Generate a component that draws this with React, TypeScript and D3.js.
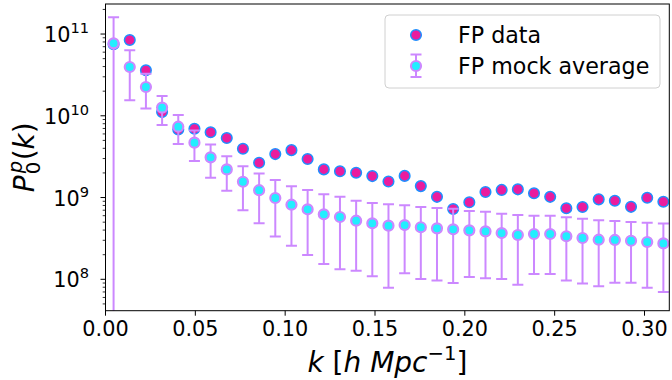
import React from "react";
import * as d3 from "d3";

const kValues = [
  0.0045, 0.0135, 0.0225, 0.0315, 0.0405, 0.0495, 0.0585, 0.0675, 0.0765, 0.0855,
  0.0945, 0.1035, 0.1125, 0.1215, 0.1305, 0.1395, 0.1485, 0.1575, 0.1665, 0.1755,
  0.1845, 0.1935, 0.2025, 0.2115, 0.2205, 0.2295, 0.2385, 0.2475, 0.2565, 0.2655,
  0.2745, 0.2835, 0.2925, 0.3015, 0.3105,
];

const fpData = [
  7.5e10, 8.45e10, 3.6e10, 1.11e10, 6.8e9, 6.95e9, 6.3e9, 5.35e9, 3.95e9, 2.67e9,
  3.4e9, 3.8e9, 2.96e9, 2.21e9, 2.1e9, 2.01e9, 1.83e9, 1.57e9, 1.84e9, 1.38e9,
  1.02e9, 7.25e8, 8.75e8, 1.17e9, 1.24e9, 1.26e9, 1.13e9, 1.02e9, 7.4e8, 7.65e8,
  9.5e8, 9.15e8, 7.7e8, 9.95e8, 8.9e8,
];

const mockMean = [
  7.7e10, 3.95e10, 2.25e10, 1.26e10, 7.35e9, 4.69e9, 3.1e9, 2.21e9, 1.56e9, 1.23e9,
  9.87e8, 8.17e8, 7.18e8, 6.24e8, 5.78e8, 5.21e8, 4.84e8, 4.53e8, 4.61e8, 4.33e8,
  4.2e8, 4.09e8, 3.97e8, 3.86e8, 3.68e8, 3.48e8, 3.58e8, 3.58e8, 3.36e8, 3.2e8,
  3.05e8, 3.03e8, 2.96e8, 2.86e8, 2.75e8,
];

const mockSigma = [
  8.3e10, 2.4e10, 1.025e10, 4.87e9, 2.84e9, 1.9e9, 1.35e9, 1.0e9, 8.6e8, 7.44e8,
  6.52e8, 5.6e8, 5.2e8, 4.7e8, 4.45e8, 3.94e8, 3.75e8, 3.74e8, 3.42e8, 3.32e8,
  3.23e8, 3.19e8, 2.9e8, 2.83e8, 2.67e8, 2.62e8, 2.42e8, 2.42e8, 2.39e8, 2.31e8,
  2.23e8, 2.12e8, 2.05e8, 2.07e8, 2.05e8,
];

const xTicks = [0.0, 0.05, 0.1, 0.15, 0.2, 0.25, 0.3];
const yMajorExp = [8, 9, 10, 11];
const legendLabels = ["FP data", "FP mock average"];

const W = 672;
const H = 380;
const left = 105.5;
const right = 669.3;
const top = 4;
const bottom = 310.7;

const PINK = "#ea1c9e";
const BLUE = "#1e90ff";
const CYAN = "#22eeff";
const PURPLE = "#cc88ff";
const FONT = "DejaVu Sans, sans-serif";

export default function App() {
  const x = d3.scaleLinear().domain([0, 0.3138]).range([left, right]);
  const y = d3.scaleLog().domain([4.13e7, 2.33e11]).range([bottom, top]);

  const minor: number[] = [];
  for (let e = 7; e <= 11; e++) {
    for (let m = 2; m <= 9; m++) {
      const v = m * Math.pow(10, e);
      if (v >= 4.13e7 && v <= 2.33e11) minor.push(v);
    }
  }

  const capHalf = 5.5;

  return (
    <svg
      width={W}
      height={H}
      style={{ position: "absolute", left: 0, top: 0, background: "#fff" }}
      fontFamily={FONT}
    >
      <defs>
        <clipPath id="plotclip">
          <rect x={left} y={top} width={right - left} height={bottom - top} />
        </clipPath>
      </defs>
      <rect x={0} y={0} width={W} height={H} fill="#fff" />

      <g clipPath="url(#plotclip)">
        {/* FP data */}
        {kValues.map((k, i) => (
          <circle
            key={"fp" + i}
            cx={x(k)}
            cy={y(fpData[i])}
            r={5.3}
            fill={PINK}
            stroke={BLUE}
            strokeWidth={1.5}
          />
        ))}
        {/* Mock error bars */}
        {kValues.map((k, i) => {
          const hi = mockMean[i] + mockSigma[i];
          const lo = mockMean[i] - mockSigma[i];
          const yHi = y(hi);
          const yLo = lo > 0 ? y(lo) : bottom + 20;
          const cx = x(k);
          return (
            <g key={"eb" + i} stroke={PURPLE} strokeWidth={2}>
              <line x1={cx} x2={cx} y1={yHi} y2={yLo} />
              <line x1={cx - capHalf} x2={cx + capHalf} y1={yHi} y2={yHi} />
              {lo > 0 && <line x1={cx - capHalf} x2={cx + capHalf} y1={yLo} y2={yLo} />}
            </g>
          );
        })}
        {kValues.map((k, i) => (
          <circle
            key={"mk" + i}
            cx={x(k)}
            cy={y(mockMean[i])}
            r={5}
            fill={CYAN}
            stroke={PURPLE}
            strokeWidth={2.2}
          />
        ))}
      </g>

      {/* frame */}
      <rect
        x={left}
        y={top}
        width={right - left}
        height={bottom - top}
        fill="none"
        stroke="#000"
        strokeWidth={1}
      />

      {/* x ticks */}
      {xTicks.map((t) => (
        <g key={"xt" + t}>
          <line x1={x(t)} x2={x(t)} y1={bottom} y2={bottom + 5} stroke="#000" strokeWidth={1} />
          <text x={x(t)} y={bottom + 25.5} textAnchor="middle" fontSize={20.8} fill="#000">
            {t.toFixed(2)}
          </text>
        </g>
      ))}

      {/* y ticks */}
      {minor.map((v, i) => (
        <line key={"mn" + i} x1={left - 2.8} x2={left} y1={y(v)} y2={y(v)} stroke="#000" strokeWidth={0.8} />
      ))}
      {yMajorExp.map((e) => {
        const yy = y(Math.pow(10, e));
        return (
          <g key={"ye" + e}>
            <line x1={left - 5} x2={left} y1={yy} y2={yy} stroke="#000" strokeWidth={1} />
            <text x={89} y={yy + 8} textAnchor="end" fontSize={20.8} fill="#000">
              <tspan>10</tspan>
              <tspan fontSize={14.6} dy={-9}>{String(e)}</tspan>
            </text>
          </g>
        );
      })}

      {/* x label */}
      <text x={(left + right) / 2} y={372} textAnchor="middle" fontSize={28} fill="#000">
        <tspan fontStyle="italic">k</tspan>
        <tspan> [</tspan>
        <tspan fontStyle="italic">h</tspan>
        <tspan> </tspan>
        <tspan fontStyle="italic">Mpc</tspan>
        <tspan fontSize={19.6} dy={-12}>−1</tspan>
        <tspan dy={12}>]</tspan>
      </text>

      {/* y label */}
      <g transform={`translate(34, ${(top + bottom) / 2}) rotate(-90)`} fill="#000">
        <text x={-35} y={0} fontSize={28} fontStyle="italic">P</text>
        <text x={-17} y={6} fontSize={19.6}>0</text>
        <text x={-16} y={-12} fontSize={19.6} fontStyle="italic">p</text>
        <text x={-3} y={0} fontSize={28}>
          <tspan>(</tspan>
          <tspan fontStyle="italic">k</tspan>
          <tspan>)</tspan>
        </text>
      </g>

      {/* legend */}
      <rect x={385} y={15} width={275} height={73} rx={4} ry={4} fill="#fff" fillOpacity={0.8} stroke="#d0d0d0" strokeWidth={1} />
      <circle cx={416} cy={35} r={5.3} fill={PINK} stroke={BLUE} strokeWidth={1.5} />
      <g stroke={PURPLE} strokeWidth={2}>
        <line x1={416} x2={416} y1={54.5} y2={77} />
        <line x1={416 - capHalf} x2={416 + capHalf} y1={54.5} y2={54.5} />
        <line x1={416 - capHalf} x2={416 + capHalf} y1={77} y2={77} />
      </g>
      <circle cx={416} cy={66} r={5} fill={CYAN} stroke={PURPLE} strokeWidth={2.2} />
      <text x={458} y={43} fontSize={22.2} fill="#000">{legendLabels[0]}</text>
      <text x={458} y={74} fontSize={22.2} fill="#000">{legendLabels[1]}</text>
    </svg>
  );
}
